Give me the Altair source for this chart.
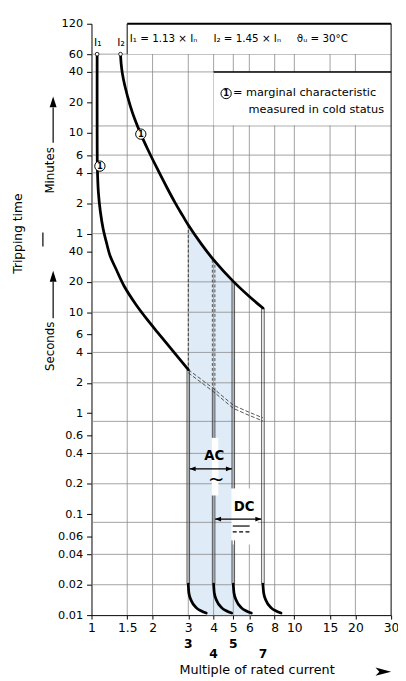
import altair as alt
import pandas as pd

FONT = "DejaVu Sans"
BLUE = "#dfebf6"
GRID = "#8a8a8a"
LINE = "#2a2a2a"

# ---- axes -------------------------------------------------------------
x_ticks = [1, 1.5, 2, 3, 4, 5, 6, 8, 10, 15, 20, 30]
y_ticks = [0.01, 0.02, 0.04, 0.06, 0.1, 0.2, 0.4, 0.6, 1, 2, 4, 6, 10, 20, 40,
           60, 120, 240, 360, 600, 1200, 2400, 3600, 7200]          # seconds
grid_x = [1.5, 2, 3, 4, 5, 6, 8, 10, 15, 20]
grid_y = [0.02, 0.04, 0.083, 0.2, 0.4, 0.83, 2, 4, 10, 20, 60, 120, 240, 360,
          700, 2400, 3600]

# ---- curves (x = multiple of rated current, t = seconds) --------------
upper_x = [1.39, 1.40, 1.42, 1.46, 1.55, 1.63, 1.75, 1.89, 2.11, 2.36, 2.58,
           2.82, 3.0, 3.49, 4.0, 5.0, 6.0, 7.0]
upper_t = [3600, 2900, 2310, 1750, 1120, 828, 581, 414, 264, 170, 122,
           90, 73, 47, 33, 20.2, 14.3, 11.0]

lower_x = [1.066, 1.066, 1.069, 1.081, 1.106, 1.143, 1.182, 1.236, 1.321,
           1.445, 1.652, 1.826, 2.112, 2.523, 3.0]
lower_t = [3600, 750, 272, 155, 99, 66, 50, 36, 26.8, 18.3, 12.0, 9.15, 6.36,
           4.12, 2.7]

cold_x = [3, 4, 5, 6, 7]
cold_t = [2.7, 1.75, 1.2, 1.02, 0.9]

# vertical limits of the instantaneous release
seg_x = [3, 3, 4, 4, 4, 5, 5, 7]
seg_top = [73, 2.7, 33, 1.75, 0.153, 20.2, 0.055, 11.0]
seg_bottom = [2.7, 0.0203, 1.75, 0.57, 0.0203, 0.18, 0.0203, 0.0203]
seg_style = ["dashed", "double", "dashed-double", "double", "double",
             "double", "double", "double"]

tail_t = [0.0203, 0.0166, 0.0138, 0.0118, 0.0110, 0.0105]
tail3_x = [3.0, 3.02, 3.11, 3.29, 3.48, 3.68]
tail4_x = [4.0, 4.03, 4.15, 4.39, 4.64, 4.91]
tail5_x = [5.0, 5.04, 5.19, 5.49, 5.80, 6.14]
tail7_x = [7.0, 7.06, 7.27, 7.69, 8.13, 8.60]

# ---- annotations ------------------------------------------------------
box_x = [1.5, 4, 3.92, 4.9]
box_x2 = [30, 30, 4.22, 6.6]
box_t = [3620, 712, 0.153, 0.05]
box_t2 = [7200, 2400, 0.57, 0.18]

border_x = [1.5, 1.5, 4, 30]
border_x2 = [30, 1.5, 30, 30]
border_t = [7200, 3600, 2400, 0.01]
border_t2 = [7200, 7200, 2400, 7200]
border_w = [1.8, 0.9, 1.5, 1.0]

circle_x = [1.10, 1.75, 4.61]
circle_t = [280, 581, 1466]
dot_x = [1.066, 1.39]
dot_t = [3600, 3600]

left_text = ["I\u2081 = 1.13 \u00d7 I\u2099", "I\u2082 = 1.45 \u00d7 I\u2099",
             "\u03d1\u1d64 = 30\u00b0C", "= marginal characteristic",
             "measured in cold status"]
left_x = [1.545, 3.99, 10.28, 4.98, 5.95]
left_t = [5035, 5035, 5035, 1466, 1000]
left_fs = [10.5, 10.5, 10.5, 11.5, 11.5]

mid_text = ["I\u2081", "I\u2082", "Tripping time", "Minutes", "Seconds", "~"]
mid_x = [1.075, 1.398, 0.433, 0.626, 0.626, 4.12]
mid_t = [4600, 4600, 60, 254, 4.6, 0.215]
mid_fs = [11, 11, 12.5, 12, 12, 20]
mid_angle = [0, 0, 270, 270, 270, 0]

bold_text = ["AC", "DC", "3", "4", "5", "7"]
bold_x = [4.03, 5.66, 3, 4, 5, 7]
bold_t = [0.376, 0.117, 0.00521, 0.00412, 0.00521, 0.00412]
bold_fs = [13.5, 13.5, 12.5, 12.5, 12.5, 12.5]

arrow_x = [3.05, 4.07, 0.647, 0.647, 0.576, 4.97]
arrow_x2 = [4.92, 6.87, 0.647, 0.647, 0.576, 6.02]
arrow_t = [0.281, 0.0894, 476, 8.74, 61.6, 0.0763]
arrow_t2 = [0.281, 0.0894, 1069, 20, 44.9, 0.0763]
dc_dash_x = [4.97]
dc_dash_x2 = [6.02]
dc_dash_t = [0.0667]

HEAD_L = "M0,0L2,-0.8L2,0.8Z"
HEAD_R = "M0,0L-2,-0.8L-2,0.8Z"
HEAD_U = "M0,0L-1.17,3.67L1.17,3.67Z"
HEAD_T = "M0,0L-5.3,-1.4L-4,0L-5.3,1.4Z"
head_x = [3.05, 4.92, 4.07, 6.87, 0.647, 0.647, 30]
head_t = [0.281, 0.281, 0.0894, 0.0894, 1371, 25.7, 0.00275]
head_path = [HEAD_L, HEAD_R, HEAD_L, HEAD_R, HEAD_U, HEAD_U, HEAD_T]

# ---- scales / encodings -----------------------------------------------
xscale = alt.Scale(type="log", domain=[1, 30], nice=False)
yscale = alt.Scale(type="log", domain=[0.01, 7200], nice=False)
xaxis = alt.Axis(values=x_ticks, labelExpr="'' + datum.value", grid=False,
                 tickSize=4, tickColor="black", domainColor="black",
                 labelFontSize=12.5, labelColor="black", labelFlush=False,
                 labelOverlap=False, labelPadding=3,
                 title="Multiple of rated current", titleFontSize=13,
                 titleFontWeight="normal", titleColor="black", titleX=168,
                 titleY=55, titleBaseline="middle", titleAlign="center")
yaxis = alt.Axis(values=y_ticks,
                 labelExpr="datum.value >= 60 ? '' + (datum.value / 60) : '' + datum.value",
                 grid=False, tickSize=5, tickColor="black", domainColor="black",
                 labelFontSize=11.5, labelColor="black", labelFlush=False,
                 labelOverlap=False, labelPadding=4, title=None)
X = alt.X("x:Q", scale=xscale, axis=xaxis)
Y = alt.Y("t:Q", scale=yscale, axis=yaxis)

upper_df = pd.DataFrame({"x": upper_x, "t": upper_t, "i": range(len(upper_x))})
lower_df = pd.DataFrame({"x": lower_x, "t": lower_t, "i": range(len(lower_x))})
cold_df = pd.DataFrame({"x": cold_x, "t": cold_t})
seg_df = pd.DataFrame({"x": seg_x, "t": seg_top, "t2": seg_bottom, "style": seg_style})
tails = []
for name, xs in (("3", tail3_x), ("4", tail4_x), ("5", tail5_x), ("7", tail7_x)):
    for i, (xv, tv) in enumerate(zip(xs, tail_t)):
        tails.append({"id": name, "i": i, "x": xv, "t": tv})
tail_df = pd.DataFrame(tails)
strip_df = pd.DataFrame({"t": tail_t + [0.01], "x": tail3_x + [tail3_x[-1]],
                         "x2": tail5_x + [tail5_x[-1]]})

layers = []
# blue AC band
layers.append(alt.Chart(upper_df).transform_filter("datum.x >= 3 && datum.x <= 5")
              .mark_area(color=BLUE, interpolate="monotone")
              .encode(x=X, y=Y, y2=alt.datum(tail_t[0])))
layers.append(alt.Chart(strip_df).mark_area(color=BLUE, orient="horizontal")
              .encode(y=Y, x=X, x2=alt.X2("x2")))
# grid
layers.append(alt.Chart(pd.DataFrame({"t": grid_y}))
              .mark_rule(color=GRID, strokeWidth=0.8).encode(y=Y))
layers.append(alt.Chart(pd.DataFrame({"x": grid_x}))
              .mark_rule(color=GRID, strokeWidth=0.8).encode(x=X))
# white boxes
layers.append(alt.Chart(pd.DataFrame({"x": box_x, "x2": box_x2, "t": box_t, "t2": box_t2}))
              .mark_rect(color="white")
              .encode(x=X, x2=alt.X2("x2"), y=Y, y2=alt.Y2("t2")))
# borders
layers.append(alt.Chart(pd.DataFrame({"x": border_x, "x2": border_x2, "t": border_t,
                                      "t2": border_t2, "w": border_w}))
              .mark_rule(color="black")
              .encode(x=X, x2=alt.X2("x2"), y=Y, y2=alt.Y2("t2"),
                      strokeWidth=alt.StrokeWidth("w:Q", scale=None)))
# vertical release limits
layers.append(alt.Chart(seg_df).transform_filter(alt.datum.style == "dashed")
              .mark_rule(color=LINE, strokeWidth=0.9, strokeDash=[3, 2])
              .encode(x=X, y=Y, y2=alt.Y2("t2")))
for off in (-1.3, 1.3):
    layers.append(alt.Chart(seg_df).transform_filter(alt.datum.style == "double")
                  .mark_rule(color=LINE, strokeWidth=0.8, xOffset=off)
                  .encode(x=X, y=Y, y2=alt.Y2("t2")))
    layers.append(alt.Chart(seg_df).transform_filter(alt.datum.style == "dashed-double")
                  .mark_rule(color=LINE, strokeWidth=0.8, xOffset=off, strokeDash=[3, 2])
                  .encode(x=X, y=Y, y2=alt.Y2("t2")))
# cold-state continuation (double dashed)
for off in (0, 3.2):
    layers.append(alt.Chart(cold_df)
                  .mark_line(color=LINE, strokeWidth=0.8, strokeDash=[4, 2], yOffset=off)
                  .encode(x=X, y=Y))
# main curves
for df in (upper_df, lower_df):
    layers.append(alt.Chart(df)
                  .mark_line(color="black", strokeWidth=2.8, interpolate="catmull-rom",
                             strokeCap="round")
                  .encode(x=X, y=Y, order="i:Q"))
layers.append(alt.Chart(tail_df)
              .mark_line(color="black", strokeWidth=2.8, interpolate="monotone",
                         strokeCap="round")
              .encode(x=X, y=Y, detail="id:N", order="i:Q"))
# markers
layers.append(alt.Chart(pd.DataFrame({"x": dot_x, "t": dot_t}))
              .mark_point(shape="circle", filled=True, fill="white", stroke="black",
                          strokeWidth=0.8, size=14, opacity=1)
              .encode(x=X, y=Y))
circ_df = pd.DataFrame({"x": circle_x, "t": circle_t, "label": ["1"] * len(circle_x)})
layers.append(alt.Chart(circ_df)
              .mark_point(shape="circle", filled=True, fill="white", stroke="black",
                          strokeWidth=1, size=110, opacity=1)
              .encode(x=X, y=Y))
layers.append(alt.Chart(circ_df)
              .mark_text(fontSize=8.5, fontWeight="bold", color="black")
              .encode(x=X, y=Y, text="label:N"))
# texts
layers.append(alt.Chart(pd.DataFrame({"x": left_x, "t": left_t, "label": left_text, "fs": left_fs}))
              .mark_text(align="left", baseline="middle", color="black")
              .encode(x=X, y=Y, text="label:N", size=alt.Size("fs:Q", scale=None)))
layers.append(alt.Chart(pd.DataFrame({"x": mid_x, "t": mid_t, "label": mid_text,
                                      "fs": mid_fs, "ang": mid_angle}))
              .mark_text(align="center", baseline="middle", color="black")
              .encode(x=X, y=Y, text="label:N", size=alt.Size("fs:Q", scale=None),
                      angle=alt.Angle("ang:Q", scale=None)))
layers.append(alt.Chart(pd.DataFrame({"x": bold_x, "t": bold_t, "label": bold_text, "fs": bold_fs}))
              .mark_text(align="center", baseline="middle", color="black", fontWeight="bold")
              .encode(x=X, y=Y, text="label:N", size=alt.Size("fs:Q", scale=None)))
# arrows
layers.append(alt.Chart(pd.DataFrame({"x": arrow_x, "x2": arrow_x2, "t": arrow_t, "t2": arrow_t2}))
              .mark_rule(color="black", strokeWidth=1.2)
              .encode(x=X, x2=alt.X2("x2"), y=Y, y2=alt.Y2("t2")))
layers.append(alt.Chart(pd.DataFrame({"x": dc_dash_x, "x2": dc_dash_x2, "t": dc_dash_t}))
              .mark_rule(color="black", strokeWidth=1.3, strokeDash=[4, 2.5])
              .encode(x=X, x2=alt.X2("x2"), y=Y))
layers.append(alt.Chart(pd.DataFrame({"x": head_x, "t": head_t, "p": head_path}))
              .mark_point(filled=True, fill="black", strokeWidth=0, size=36, opacity=1)
              .encode(x=X, y=Y, shape=alt.Shape("p:N", scale=None)))

chart = alt.layer(*layers).properties(
    width=305, height=602,
    padding={"left": 85, "top": 10, "right": 7, "bottom": 60},
    autosize=alt.AutoSizeParams(type="none"),
).configure(font=FONT).configure_view(strokeWidth=0)

chart.save("out.html", embed_options={"renderer": "svg", "actions": False})
